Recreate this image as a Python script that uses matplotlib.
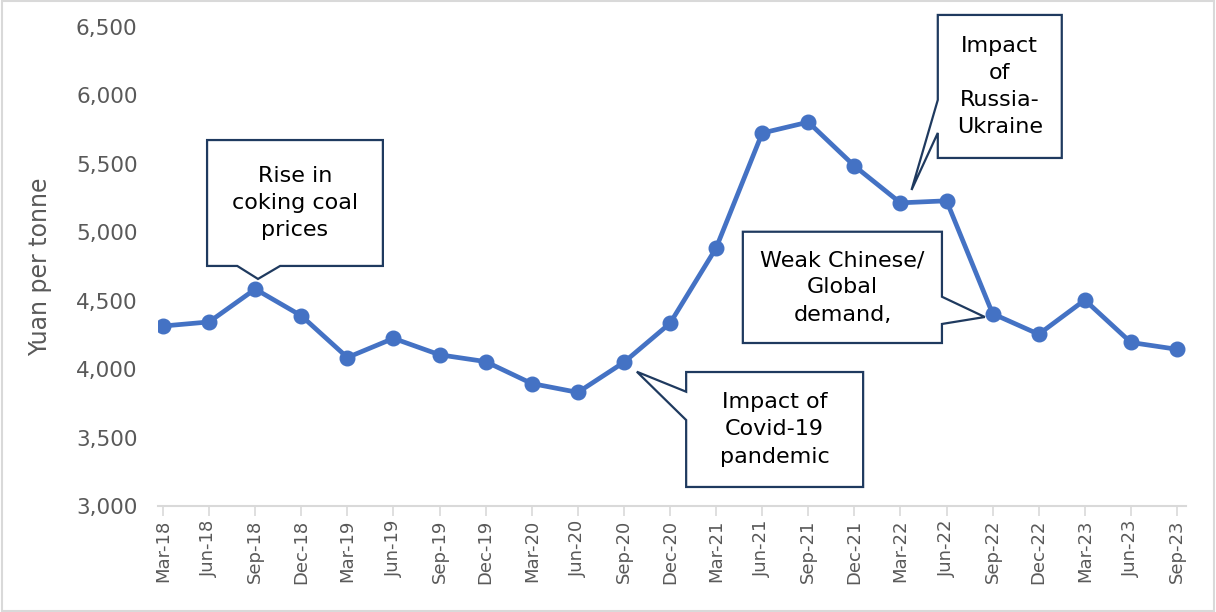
import numpy as np
import matplotlib
matplotlib.use("Agg")
import matplotlib.pyplot as plt
from matplotlib.patches import Polygon, Rectangle
from matplotlib.ticker import FuncFormatter

# Quarterly coke price, yuan per tonne
quarters = ['Mar-18', 'Jun-18', 'Sep-18', 'Dec-18', 'Mar-19', 'Jun-19', 'Sep-19', 'Dec-19',
            'Mar-20', 'Jun-20', 'Sep-20', 'Dec-20', 'Mar-21', 'Jun-21', 'Sep-21', 'Dec-21',
            'Mar-22', 'Jun-22', 'Sep-22', 'Dec-22', 'Mar-23', 'Jun-23', 'Sep-23']
price = [4315, 4345, 4585, 4390, 4085, 4225, 4105, 4055,
         3895, 3830, 4050, 4335, 4885, 5725, 5805, 5485,
         5215, 5230, 4405, 4255, 4505, 4195, 4145]

y_ticks = [3000, 3500, 4000, 4500, 5000, 5500, 6000, 6500]

callout_texts = ['Rise in\ncoking coal\nprices',
                 'Impact of\nCovid-19\npandemic',
                 'Impact\nof\nRussia-\nUkraine',
                 'Weak Chinese/\nGlobal\ndemand,']

line_blue = '#4472C4'
box_edge = '#1F3A5F'
grey_txt = '#595959'
axis_grey = '#D9D9D9'

fig = plt.figure(figsize=(12.16, 6.12), dpi=100)
ax = fig.add_axes([0.1303, 0.1732, 0.8452, 0.7827])

x = np.arange(len(quarters))
ax.plot(x, price, color=line_blue, lw=3.4, marker='o', ms=10.5,
        solid_joinstyle='round', zorder=3)

ax.set_xlim(-0.1, 22.2)
ax.set_ylim(3000, 6500)
ax.set_xticks(x)
ax.set_xticklabels(quarters, rotation=90, fontsize=13, color=grey_txt)
ax.set_yticks(y_ticks)
ax.yaxis.set_major_formatter(FuncFormatter(lambda v, p: f'{int(v):,}'))
ax.tick_params(axis='y', length=0, pad=15, labelsize=15.5, labelcolor=grey_txt)
ax.tick_params(axis='x', length=7, width=1.2, color=axis_grey, pad=3)

for s in ['top', 'right', 'left']:
    ax.spines[s].set_visible(False)
ax.spines['bottom'].set_color(axis_grey)
ax.spines['bottom'].set_linewidth(1.5)

ax.set_ylabel('Yuan per tonne', fontsize=17, color=grey_txt)
ax.yaxis.set_label_coords(-0.103, 0.5)


def callout(x0, x1, y0, y1, side, b1, b2, tip, text):
    # box corners in data units, wedge cut into one side
    if side == 'bottom':
        pts = [(x0, y0), (b1, y0), tip, (b2, y0), (x1, y0), (x1, y1), (x0, y1)]
    elif side == 'right':
        pts = [(x0, y0), (x1, y0), (x1, b1), tip, (x1, b2), (x1, y1), (x0, y1)]
    else:
        pts = [(x0, y0), (x1, y0), (x1, y1), (x0, y1), (x0, b2), tip, (x0, b1)]
    ax.add_patch(Polygon(pts, closed=True, facecolor='white', edgecolor=box_edge,
                         lw=1.6, zorder=4, clip_on=False, joinstyle='miter'))
    ax.text((x0 + x1) / 2, (y0 + y1) / 2, text, ha='center', va='center',
            fontsize=16, color='black', linespacing=1.45, zorder=5)


callout(0.955, 4.77, 4754, 5674, 'bottom', 1.61, 2.54, (2.06, 4659), callout_texts[0])
callout(11.35, 15.19, 3139, 3979, 'left', 3628, 3835, (10.28, 3981), callout_texts[1])
callout(16.81, 19.5, 5543, 6588, 'left', 5726, 5967, (16.24, 5309), callout_texts[2])
callout(12.58, 16.9, 4191, 5004, 'right', 4330, 4529, (17.83, 4381), callout_texts[3])

# thin frame round the chart area
fig.add_artist(Rectangle((0.002, 0.002), 0.996, 0.996, transform=fig.transFigure,
                         fill=False, edgecolor=axis_grey, lw=1.5))

fig.savefig('out.png', dpi=100)
